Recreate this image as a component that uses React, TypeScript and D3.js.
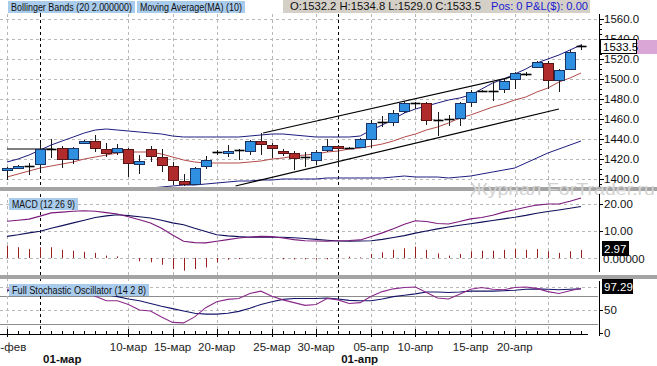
import React from 'react';
import * as d3 from 'd3';

const W = 657;
const H = 366;

// daily candles, 25-фев .. 27-апр (sunday sessions included)
const opens = [1409, 1411.5, 1413, 1415, 1430, 1431, 1420, 1435.5, 1438, 1430, 1427, 1430, 1415, 1430, 1422, 1413, 1398, 1395, 1413, 1427, 1426, 1429, 1428, 1438, 1434, 1428, 1426, 1422, 1419, 1429, 1433, 1431, 1432, 1440, 1457, 1457, 1468, 1476, 1476, 1459, 1460, 1461, 1477, 1488, 1488, 1490, 1500, 1505, 1512, 1516, 1499, 1510, 1532.2];
const highs = [1412, 1414, 1416, 1436, 1440, 1433, 1432, 1439, 1444, 1436, 1435, 1431, 1424, 1433, 1430, 1417, 1405, 1412, 1423, 1429, 1434, 1430, 1439, 1446, 1436, 1430, 1428, 1427, 1429, 1440, 1434, 1432, 1441, 1459, 1463, 1469, 1478, 1477, 1477, 1467, 1464, 1477, 1489, 1489, 1497, 1500, 1507, 1507, 1518, 1518, 1510, 1529, 1534.8];
const lows = [1399, 1411, 1404, 1409, 1421, 1411, 1415, 1435, 1427, 1422, 1424, 1402, 1405, 1417, 1407, 1394, 1393, 1394, 1410, 1424, 1422, 1419, 1424, 1424, 1421, 1423, 1409, 1412, 1414, 1427, 1412, 1430, 1431, 1431, 1452, 1453, 1466, 1470, 1454, 1443, 1453, 1453, 1472, 1487, 1478, 1486, 1490, 1503, 1511, 1490, 1487, 1510, 1529.0];
const closes = [1411, 1413.5, 1413, 1430, 1430, 1420, 1431, 1438, 1431, 1426, 1431, 1416, 1418, 1423, 1414, 1399, 1395, 1411, 1419, 1427, 1428, 1429, 1438, 1435, 1431, 1426, 1421, 1422, 1427, 1433, 1431, 1431, 1440, 1456, 1457, 1466, 1476, 1476, 1459, 1459, 1460, 1476, 1487, 1488, 1488, 1498, 1506, 1505, 1517, 1499, 1509, 1527, 1533.5];

const bbUpper = [1417, 1420, 1424, 1429, 1434, 1438, 1442, 1446, 1449, 1450, 1449, 1448, 1447, 1446, 1445, 1443, 1442, 1442, 1442, 1442, 1442, 1442, 1443, 1444, 1445, 1445, 1444, 1443, 1442, 1442, 1442, 1442, 1443, 1449, 1454, 1460, 1466, 1470, 1473, 1476, 1479, 1481, 1484, 1490, 1496, 1500, 1505, 1510, 1516, 1520, 1524, 1529, 1534];
const bbLower = [1386, 1383, 1381, 1380, 1379, 1380, 1382, 1384, 1386, 1388, 1389, 1390, 1391, 1391, 1392, 1393, 1394, 1394, 1395, 1396, 1397, 1398, 1398, 1399, 1399, 1400, 1400, 1400, 1400, 1401, 1401, 1401, 1401, 1401, 1401, 1402, 1403, 1402, 1402, 1402, 1401, 1402, 1403, 1405, 1407, 1409, 1411, 1416, 1421, 1426, 1430, 1434, 1438];
const ma10 = [1402, 1405, 1408, 1411, 1413, 1415, 1417, 1420, 1422, 1424, 1426, 1427, 1427, 1427, 1425, 1422, 1419, 1417, 1416, 1416, 1416, 1416, 1417, 1418, 1420, 1421, 1423, 1424, 1425, 1427, 1428, 1430, 1431, 1433, 1435, 1438, 1442, 1445, 1449, 1452, 1456, 1461, 1464, 1468, 1472, 1475, 1479, 1482, 1487, 1491, 1497, 1501, 1506];

const macdLine = [13.6, 14.0, 14.4, 15.5, 16.7, 17.0, 17.3, 17.5, 17.3, 16.8, 16.3, 15.3, 14.2, 13.0, 11.0, 8.5, 6.2, 5.7, 5.6, 6.2, 6.8, 7.4, 7.8, 8.0, 7.9, 7.4, 6.8, 6.4, 6.3, 6.2, 6.4, 6.5, 6.7, 8.0, 9.3, 10.8, 12.5, 13.8, 13.5, 12.8, 12.6, 13.5, 14.5, 15.0, 15.8, 17.0, 17.9, 18.8, 19.6, 20.0, 20.0, 21.0, 22.2];
const macdSignal = [8.0, 8.6, 9.3, 9.9, 11.0, 12.0, 13.0, 14.0, 15.0, 15.6, 16.0, 15.7, 15.3, 14.8, 14.0, 13.0, 12.3, 11.0, 9.8, 8.6, 8.2, 7.9, 7.7, 7.7, 7.7, 7.7, 7.5, 7.2, 6.9, 6.6, 6.3, 6.2, 6.3, 6.4, 6.9, 7.6, 8.3, 9.2, 10.0, 10.8, 11.5, 12.1, 12.7, 13.3, 13.9, 14.5, 15.1, 15.8, 16.6, 17.2, 17.8, 18.4, 19.1];
const macdHist = [4.6, 4.0, 3.3, 4.0, 4.0, 3.0, 2.7, 2.3, 1.9, 0.9, 0.6, 0.1, -1.2, -1.6, -2.5, -4.1, -4.7, -4.1, -3.5, -1.6, -0.6, -0.4, 0.1, 0.1, 0.1, -0.5, -0.5, -0.5, -0.6, -0.5, 0.2, 0.5, 0.2, 1.5, 2.1, 3.0, 3.6, 4.2, 3.0, 1.7, 0.9, 1.5, 2.5, 2.7, 2.7, 3.0, 3.3, 3.0, 3.3, 2.5, 1.9, 2.5, 2.97];

const stochK = [95, 96, 96, 97, 97, 96, 95, 92, 80, 70, 70, 62, 50, 48, 35, 23, 22, 35, 55, 68, 73, 75, 86, 91, 80, 72, 66, 60, 62, 75, 72, 64, 66, 80, 90, 96, 99, 100, 88, 76, 74, 84, 95, 99, 95, 94, 99, 100, 97, 90, 86, 92, 97.29];
const stochD = [92, 94, 95, 96, 96, 96, 95, 93, 89, 84, 79, 74, 70, 64, 58, 53, 48, 43, 41, 41, 43, 47, 54, 62, 68, 73, 75, 75, 75, 76, 74, 71, 70, 70, 74, 79, 82, 85, 89, 89, 88, 89, 91, 91, 91, 92, 93, 95, 96, 95, 94, 95, 96];

const priceTicks = [1400, 1420, 1440, 1460, 1480, 1500, 1520, 1540, 1560];
const macdTicks = [20, 10];
const stochTicks = [50, 0];

const dateLabels = ['25-фев', '10-мар', '15-мар', '20-мар', '25-мар', '30-мар', '05-апр', '10-апр', '15-апр', '20-апр'];
const dateIdx = [0, 11, 15, 19, 24, 28, 33, 37, 42, 46];
const monthLabels = ['01-мар', '01-апр'];
const monthIdx = [3, 30];
const extraGridIdx = [49];

// hand-drawn trend lines, [index, price]
const trendLines = [
  [[0, 1430], [4.2, 1430]],
  [[20.7, 1393], [50, 1470]],
  [[23.2, 1446], [46.9, 1505]],
];

const plotRight = 598;
const mainP = { top: 14, bottom: 187 };
const macdP = { top: 191, bottom: 275 };
const stochP = { top: 279, bottom: 334 };

const xs = d3.scaleLinear().domain([0, 52]).range([7, 581]);
const yMain = d3.scaleLinear().domain([1400, 1560]).range([179, 19]);
const yMacd = d3.scaleLinear().domain([0, 20]).range([258, 204]);
const yStoch = d3.scaleLinear().domain([0, 100]).range([333, 287]);

const px = (i: number) => Math.round(xs(i)) + 0.5;
const font = 'Liberation Sans, Arial, sans-serif';
const gridColor = '#b8b8b8';

const seriesLine = (vals: number[], y: d3.ScaleLinear<number, number>) =>
  d3.line<number>().x((_, i) => xs(i)).y((v) => y(v))(vals) || '';

const Candles = () => (
  <g>
    {opens.map((o, i) => {
      const c = closes[i];
      const x = px(i);
      const doji = Math.abs(c - o) < 1.5;
      const up = c > o;
      const top = Math.round(yMain(Math.max(o, c))) + 0.5;
      const bot = Math.round(yMain(Math.min(o, c))) + 0.5;
      return (
        <g key={i}>
          <line x1={x} x2={x} y1={yMain(highs[i])} y2={yMain(lows[i])} stroke="#1a1a1a" />
          {doji ? (
            <line x1={x - 5} x2={x + 5} y1={top} y2={top} stroke="#000" strokeWidth={1.6} />
          ) : (
            <rect
              x={x - 5}
              y={top}
              width={10}
              height={bot - top}
              fill={up ? '#2f8fe0' : '#b02c2c'}
              stroke={up ? '#1c3260' : '#561414'}
            />
          )}
        </g>
      );
    })}
  </g>
);

const VGrid = () => (
  <g>
    {[...dateIdx, ...extraGridIdx].map((d) => (
      <line key={'g' + d} x1={px(d)} x2={px(d)} y1={mainP.top} y2={stochP.bottom}
        stroke={gridColor} strokeDasharray="3,3" />
    ))}
    {monthIdx.map((d) => (
      <line key={'m' + d} x1={px(d)} x2={px(d)} y1={mainP.top} y2={stochP.bottom + 2}
        stroke="#000" strokeDasharray="3,3" />
    ))}
  </g>
);

const LegendBox = ({ x, y, w, text }: { x: number; y: number; w: number; text: string }) => (
  <g>
    <rect x={x} y={y} width={w} height={12} fill="#a9cbec" />
    <text x={x + 3} y={y + 9.5} fontSize={10} fontFamily={font} fill="#111"
      textLength={w - 6} lengthAdjust="spacingAndGlyphs">{text}</text>
  </g>
);

export default function App() {
  const minorTicks = d3.range(1395, 1561, 5);
  return (
    <svg width={W} height={H} style={{ position: 'absolute', left: 0, top: 0, background: '#fff' }}
      fontFamily={font}>
      <defs>
        <clipPath id="cMain"><rect x={0} y={mainP.top} width={plotRight} height={mainP.bottom - mainP.top} /></clipPath>
        <clipPath id="cMacd"><rect x={0} y={macdP.top} width={plotRight} height={macdP.bottom - macdP.top} /></clipPath>
        <clipPath id="cStoch"><rect x={0} y={stochP.top} width={plotRight} height={stochP.bottom - stochP.top} /></clipPath>
      </defs>
      <rect width={W} height={H} fill="#fff" />

      {/* horizontal grids */}
      {priceTicks.map((t) => (
        <line key={t} x1={0} x2={plotRight} y1={Math.round(yMain(t)) + 0.5} y2={Math.round(yMain(t)) + 0.5}
          stroke={gridColor} strokeDasharray="3,3" />
      ))}
      {[0, 10, 20].map((t) => (
        <line key={'mg' + t} x1={0} x2={plotRight} y1={Math.round(yMacd(t)) + 0.5} y2={Math.round(yMacd(t)) + 0.5}
          stroke={gridColor} strokeDasharray="3,3" />
      ))}
      {[50, 100].map((t) => (
        <line key={'sg' + t} x1={0} x2={plotRight} y1={Math.round(yStoch(t)) + 0.5} y2={Math.round(yStoch(t)) + 0.5}
          stroke={gridColor} strokeDasharray="3,3" />
      ))}
      {[20, 80].map((t) => (
        <line key={'sl' + t} x1={0} x2={plotRight} y1={Math.round(yStoch(t)) + 0.5} y2={Math.round(yStoch(t)) + 0.5}
          stroke="#8c8c8c" />
      ))}
      <VGrid />

      {/* main price panel */}
      <g clipPath="url(#cMain)">
        <path d={seriesLine(bbUpper, yMain)} fill="none" stroke="#1c1c80" />
        <path d={seriesLine(bbLower, yMain)} fill="none" stroke="#1c1c80" />
        <path d={seriesLine(ma10, yMain)} fill="none" stroke="#b44a4a" />
        {trendLines.map((l, k) => (
          <line key={k} x1={xs(l[0][0])} y1={yMain(l[0][1])} x2={xs(l[1][0])} y2={yMain(l[1][1])}
            stroke="#000" strokeWidth={1.1} />
        ))}
        <Candles />
      </g>

      {/* MACD panel */}
      <g clipPath="url(#cMacd)">
        {macdHist.map((v, i) => (
          <line key={i} x1={px(i)} x2={px(i)} y1={yMacd(0)} y2={yMacd(v)} stroke="#9a2020" />
        ))}
        <path d={seriesLine(macdSignal, yMacd)} fill="none" stroke="#10105a" strokeWidth={1.1} />
        <path d={seriesLine(macdLine, yMacd)} fill="none" stroke="#7a1a7a" strokeWidth={1.1} />
      </g>

      {/* stochastic panel */}
      <g clipPath="url(#cStoch)">
        <path d={seriesLine(stochD, yStoch)} fill="none" stroke="#14146a" strokeWidth={1.1} />
        <path d={seriesLine(stochK, yStoch)} fill="none" stroke="#8a2a8a" strokeWidth={1.1} />
      </g>

      {/* separators */}
      <rect x={0} y={mainP.bottom} width={W} height={4} fill="#a4a4a4" />
      <rect x={0} y={macdP.bottom} width={W} height={4} fill="#a4a4a4" />

      {/* watermark */}
      <text x={470} y={195} fontSize={17} fill="#d2d2d2" textLength={185} lengthAdjust="spacingAndGlyphs">
        Журнал ForTrader.ru
      </text>

      {/* right axes */}
      <line x1={599.5} x2={599.5} y1={mainP.top} y2={mainP.bottom} stroke="#000" />
      {minorTicks.map((t) => (
        <line key={'mt' + t} x1={599.5} x2={t % 20 === 0 ? 604 : 602} y1={Math.round(yMain(t)) + 0.5}
          y2={Math.round(yMain(t)) + 0.5} stroke="#000" />
      ))}
      {priceTicks.map((t) => (
        <text key={'pl' + t} x={604} y={yMain(t)} dy="0.35em" fontSize={11.5} fill="#111">{t.toFixed(1)}</text>
      ))}
      <rect x={636} y={40} width={21} height={14} fill="#d9a6d6" />
      <rect x={600.5} y={39.5} width={36} height={14} fill="#fff" stroke="#000" />
      <text x={603} y={47} dy="0.35em" fontSize={11.5} fill="#000">{closes[closes.length - 1].toFixed(1)}</text>

      <line x1={599.5} x2={599.5} y1={macdP.top + 3} y2={macdP.bottom - 3} stroke="#000" />
      {macdTicks.map((t) => (
        <g key={'ml' + t}>
          <line x1={599.5} x2={603} y1={Math.round(yMacd(t)) + 0.5} y2={Math.round(yMacd(t)) + 0.5} stroke="#000" />
          <text x={604} y={yMacd(t)} dy="0.35em" fontSize={11.5} fill="#111">{t.toFixed(2)}</text>
        </g>
      ))}
      <text x={603} y={yMacd(0) + 1} dy="0.35em" fontSize={11.5} fill="#111">0.00000</text>
      <rect x={602} y={241} width={27} height={15} fill="#000" />
      <text x={604} y={248.5} dy="0.35em" fontSize={11.5} fill="#fff">{macdHist[macdHist.length - 1].toFixed(2)}</text>

      <line x1={599.5} x2={599.5} y1={stochP.top + 2} y2={stochP.bottom + 2} stroke="#000" />
      {stochTicks.map((t) => (
        <g key={'sl2' + t}>
          <line x1={599.5} x2={603} y1={Math.round(yStoch(t)) + 0.5} y2={Math.round(yStoch(t)) + 0.5} stroke="#000" />
          <text x={604} y={yStoch(t)} dy="0.35em" fontSize={11.5} fill="#111">{t}</text>
        </g>
      ))}
      <rect x={602} y={279} width={31} height={15} fill="#000" />
      <text x={604} y={286.5} dy="0.35em" fontSize={11.5} fill="#fff">{stochK[stochK.length - 1].toFixed(2)}</text>

      {/* bottom time axis */}
      <line x1={0} x2={588} y1={334.5} y2={334.5} stroke="#000" />
      {opens.map((_, i) => (
        <line key={'xt' + i} x1={px(i)} x2={px(i)} y1={331} y2={334} stroke="#000" />
      ))}
      {dateIdx.map((d, k) => (
        <g key={'dl' + d}>
          <line x1={px(d)} x2={px(d)} y1={329} y2={337} stroke="#000" />
          <text x={xs(d)} y={351} textAnchor="middle" fontSize={11.5} fill="#222">{dateLabels[k]}</text>
        </g>
      ))}
      {monthIdx.map((d, k) => (
        <text key={'ml' + d} x={xs(d) + 3} y={363} fontSize={11.5} fontWeight="bold" fill="#111">{monthLabels[k]}</text>
      ))}

      {/* legends */}
      <LegendBox x={9} y={198} w={69} text="MACD (12 26 9)" />
      <LegendBox x={9} y={284} w={140} text="Full Stochastic Oscillator (14 2 8)" />

      {/* header */}
      <rect x={0} y={0} width={W} height={mainP.top} fill="#fff" />
      <line x1={px(3)} x2={px(3)} y1={12} y2={mainP.top + 2} stroke="#000" />
      <LegendBox x={8} y={1} w={127} text="Bollinger Bands (20 2.000000)" />
      <LegendBox x={137} y={1} w={108} text="Moving Average(MA) (10)" />
      <rect x={283} y={0} width={307} height={13} fill="#d4d0c8" />
      <text x={290} y={10} fontSize={11} fill="#111" textLength={191} lengthAdjust="spacingAndGlyphs">
        {`O:${opens[52].toFixed(1)}  H:${highs[52].toFixed(1)}  L:${lows[52].toFixed(1)}  C:${closes[52].toFixed(1)}`}
      </text>
      <text x={491} y={10} fontSize={11} fill="#1a1ad0" textLength={97} lengthAdjust="spacingAndGlyphs">
        Pos: 0 P&amp;L($): 0.00
      </text>
    </svg>
  );
}
